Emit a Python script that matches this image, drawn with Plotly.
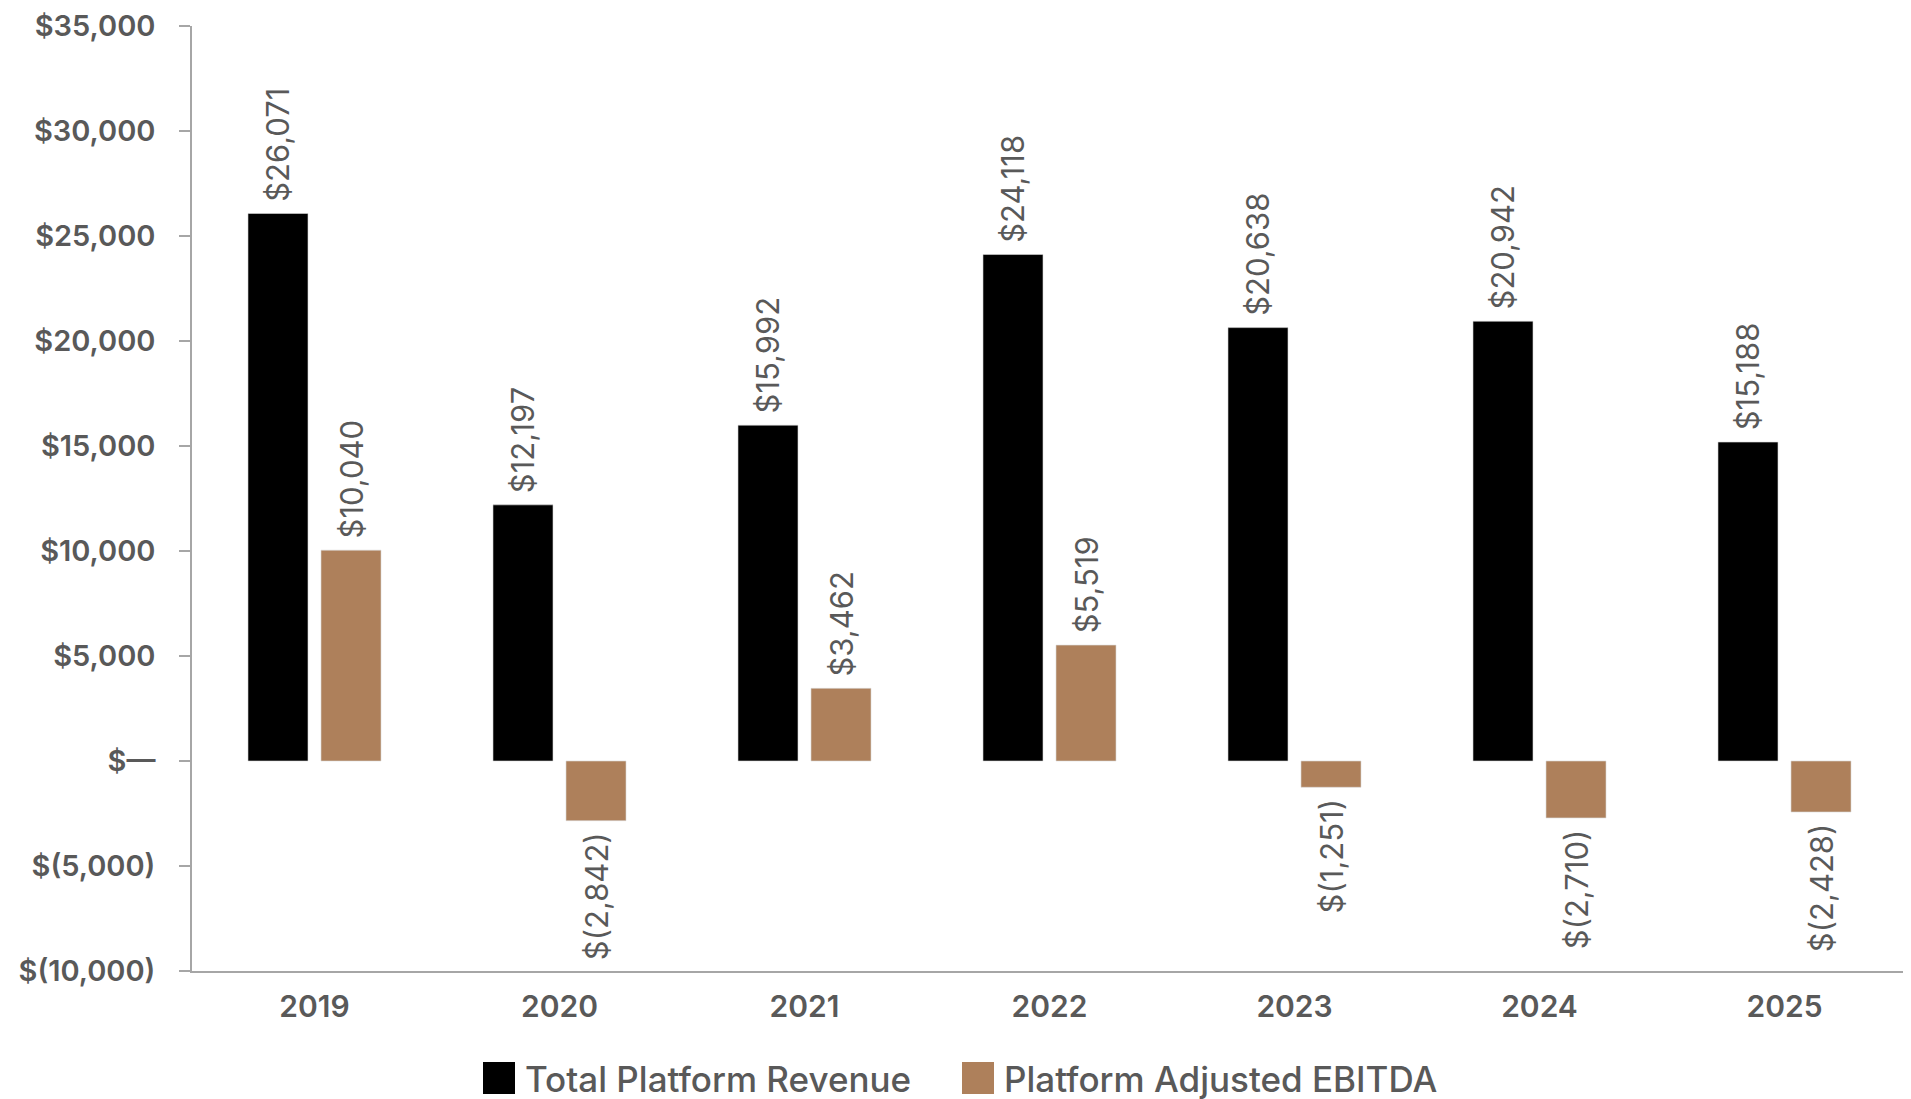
import plotly.graph_objects as go

years = ["2019", "2020", "2021", "2022", "2023", "2024", "2025"]
revenue = [26071, 12197, 15992, 24118, 20638, 20942, 15188]
ebitda = [10040, -2842, 3462, 5519, -1251, -2710, -2428]
series_names = ["Total Platform Revenue", "Platform Adjusted EBITDA"]
series_colors = ["#000000", "#AE805B"]
tick_vals = [35000, 30000, 25000, 20000, 15000, 10000, 5000, 0, -5000, -10000]


def money(v):
    if v == 0:
        return "$\u2014"
    if v < 0:
        return "$({:,})".format(-v)
    return "${:,}".format(v)


def bar_label(v):
    # non-breaking space on the bar side gives a little breathing room
    return ("\u00a0" + money(v)) if v >= 0 else (money(v) + "\u00a0")


TEXT = "#595959"
FONT = "Inter, 'Open Sans', sans-serif"

fig = go.Figure()
for name, vals, col in zip(series_names, [revenue, ebitda], series_colors):
    fig.add_trace(go.Bar(
        x=years, y=vals, name=name,
        marker=dict(color=col, line=dict(color="#d9d9d9", width=0.6)),
        text=[bar_label(v) for v in vals],
        textposition="outside", textangle=-90,
        textfont=dict(family=FONT, size=31, color=TEXT),
        constraintext="none", cliponaxis=False,
        showlegend=False,
    ))

# page offset (browser body margin) compensation
OFF = 8
W = 1911 - OFF
H = 1099 - OFF
ml = 192 - OFF
mt = 26 - OFF
mr = 4
mb = H - (971 - OFF)
pw = W - ml - mr
ph = H - mt - mb


def px_x(p):
    return (p - OFF - ml) / pw


def px_y(p):
    return ((971 - OFF) - (p - OFF)) / ph


legend_items = [(483, 523), (962, 1002)]
shapes = []
annotations = []
for (sx, tx), name, col in zip(legend_items, series_names, series_colors):
    shapes.append(dict(type="rect", xref="paper", yref="paper",
                       x0=px_x(sx), x1=px_x(sx + 32), y0=px_y(1094), y1=px_y(1062),
                       fillcolor=col, line=dict(width=0)))
    annotations.append(dict(xref="paper", yref="paper", x=px_x(tx), y=px_y(1079),
                            text=name, showarrow=False, xanchor="left", yanchor="middle",
                            font=dict(family=FONT, size=35, color=TEXT, weight=500)))

fig.update_layout(
    width=W, height=H,
    margin=dict(l=ml, r=mr, t=mt, b=mb, autoexpand=False),
    paper_bgcolor="white", plot_bgcolor="white",
    barmode="group", bargap=0.404, bargroupgap=0.178,
    shapes=shapes, annotations=annotations,
    xaxis=dict(
        showline=True, linecolor="#a6a6a6", linewidth=1.5,
        showgrid=False, ticks="", automargin=False,
        tickfont=dict(family=FONT, size=30, color=TEXT, weight=600),
        ticklabelstandoff=8,
    ),
    yaxis=dict(
        range=[-10000, 35000], tickvals=tick_vals,
        ticktext=[money(v) for v in tick_vals],
        showline=True, linecolor="#a6a6a6", linewidth=1.5,
        showgrid=False, zeroline=False, automargin=False,
        ticks="outside", ticklen=11, tickcolor="#a6a6a6", tickwidth=1.5,
        tickfont=dict(family=FONT, size=29, color=TEXT, weight=600),
        ticklabelstandoff=18, ticklabeloverflow="allow",
    ),
)

fig.write_html("out.html")
